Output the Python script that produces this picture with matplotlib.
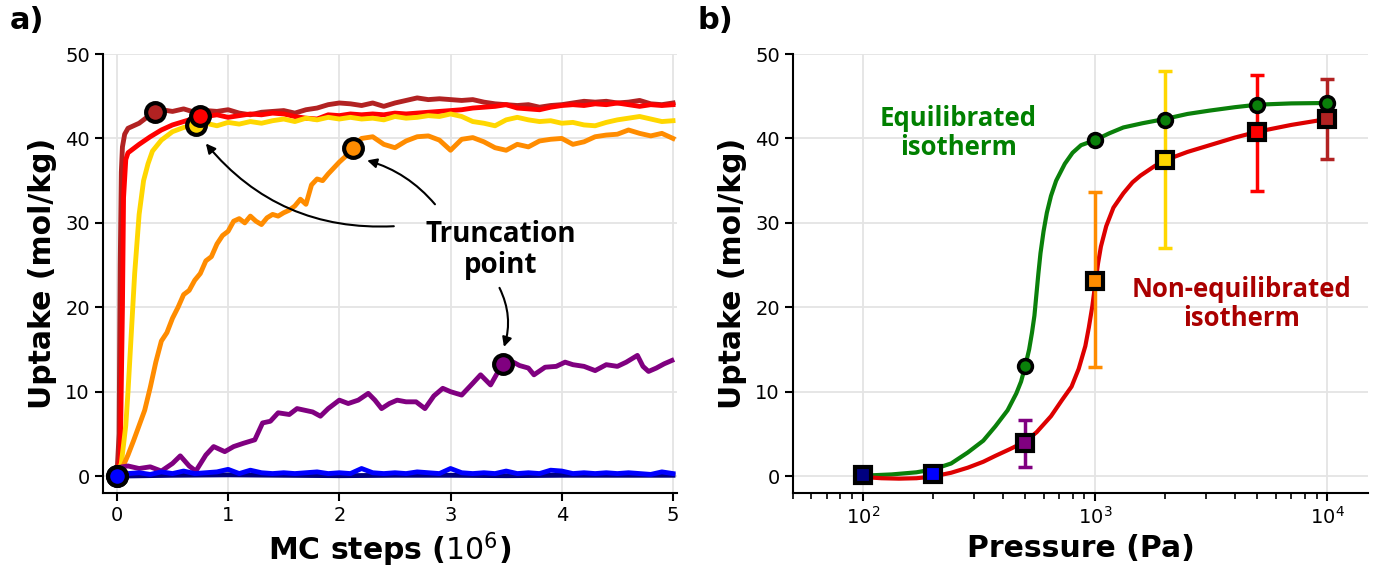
import matplotlib
matplotlib.use("Agg")
import matplotlib.pyplot as plt

# ---- panel a: MC traces ----
brown_x = [0, 0.02, 0.03, 0.04, 0.05, 0.07, 0.1, 0.15, 0.2, 0.25, 0.3, 0.34,
           0.4, 0.5, 0.6, 0.7, 0.8, 0.9, 1.0, 1.1, 1.2, 1.3, 1.4, 1.5, 1.6, 1.7, 1.8, 1.9,
           2.0, 2.1, 2.2, 2.3, 2.4, 2.5, 2.6, 2.7, 2.8, 2.9, 3.0, 3.1, 3.2, 3.3, 3.4, 3.5,
           3.6, 3.7, 3.8, 3.9, 4.0, 4.1, 4.2, 4.3, 4.4, 4.5, 4.6, 4.7, 4.8, 4.9, 5.0]
brown_y = [0, 5, 25, 36, 39, 40.5, 41.2, 41.5, 41.8, 42.3, 42.8, 43.1,
           43.4, 43.2, 43.5, 43.1, 43.3, 43.2, 43.4, 43.0, 42.8, 43.1, 43.2, 43.3, 43.0, 43.4, 43.6, 44.0,
           44.2, 44.1, 43.9, 44.2, 43.8, 44.2, 44.5, 44.8, 44.6, 44.7, 44.6, 44.5, 44.6, 44.3, 44.1, 44.0,
           43.9, 44.0, 43.7, 43.9, 44.0, 44.2, 44.4, 44.3, 44.4, 44.2, 44.3, 44.5, 44.1, 44.0, 44.2]

red_x = [0, 0.03, 0.05, 0.06, 0.08, 0.1, 0.15, 0.2, 0.3, 0.4, 0.5, 0.6, 0.75,
         0.8, 0.9, 1.0, 1.1, 1.2, 1.3, 1.4, 1.5, 1.6, 1.7, 1.8, 1.9, 2.0, 2.1, 2.2, 2.3,
         2.4, 2.5, 2.6, 2.7, 2.8, 2.9, 3.0, 3.1, 3.2, 3.3, 3.4, 3.5, 3.6, 3.7, 3.8, 3.9,
         4.0, 4.1, 4.2, 4.3, 4.4, 4.5, 4.6, 4.7, 4.8, 4.9, 5.0]
red_y = [0, 2, 20, 33, 37.5, 38.3, 38.8, 39.3, 40.2, 41.0, 41.6, 42.0, 42.6,
         42.6, 42.8, 42.5, 42.7, 42.9, 42.8, 43.0, 42.9, 42.6, 42.4, 42.3, 42.8, 42.7, 42.9, 42.8, 42.9,
         42.8, 43.0, 42.9, 43.0, 43.1, 43.2, 43.3, 43.4, 43.6, 43.7, 43.8, 44.0, 43.6, 43.5, 43.4, 43.7,
         43.9, 44.0, 43.9, 44.1, 44.0, 44.2, 44.0, 43.8, 44.0, 43.9, 44.0]

gold_x = [0, 0.04, 0.08, 0.1, 0.13, 0.16, 0.2, 0.24, 0.28, 0.32, 0.4, 0.5, 0.6, 0.71,
          0.8, 0.9, 1.0, 1.1, 1.2, 1.3, 1.4, 1.5, 1.6, 1.7, 1.8, 1.9, 2.0, 2.1, 2.2, 2.3,
          2.4, 2.5, 2.6, 2.7, 2.8, 2.9, 3.0, 3.1, 3.2, 3.3, 3.4, 3.5, 3.6, 3.7, 3.8, 3.9,
          4.0, 4.1, 4.2, 4.3, 4.4, 4.5, 4.6, 4.7, 4.8, 4.9, 5.0]
gold_y = [0, 1.5, 6, 10, 17, 24, 31, 35, 37, 38.5, 39.8, 40.8, 41.3, 41.6,
          41.8, 41.5, 41.9, 41.7, 42.0, 41.8, 42.1, 42.3, 42.0, 42.4, 42.2, 42.5, 42.3, 42.5, 42.3, 42.4,
          42.2, 42.6, 42.4, 42.5, 42.7, 42.6, 42.9, 42.6, 42.0, 41.8, 41.5, 42.2, 42.5, 42.2, 42.0, 42.1,
          41.8, 41.9, 41.6, 41.5, 41.9, 42.2, 42.4, 42.6, 42.3, 42.0, 42.1]

orange_x = [0, 0.05, 0.1, 0.15, 0.2, 0.25, 0.3, 0.35, 0.4, 0.45, 0.5, 0.55, 0.6, 0.65, 0.7,
            0.75, 0.8, 0.85, 0.9, 0.95, 1.0, 1.05, 1.1, 1.15, 1.2, 1.25, 1.3, 1.35, 1.4, 1.45,
            1.5, 1.55, 1.6, 1.65, 1.7, 1.75, 1.8, 1.85, 1.9, 1.95, 2.0, 2.05, 2.12,
            2.2, 2.3, 2.4, 2.5, 2.6, 2.7, 2.8, 2.9, 3.0, 3.1, 3.2, 3.3, 3.4, 3.5, 3.6, 3.7,
            3.8, 3.9, 4.0, 4.1, 4.2, 4.3, 4.4, 4.5, 4.6, 4.7, 4.8, 4.9, 5.0]
orange_y = [0, 1.0, 2.5, 4.2, 6.0, 7.8, 10.5, 13.5, 16.0, 17.0, 18.7, 20.0, 21.5, 22.0, 23.2,
            24.0, 25.5, 26.0, 27.5, 28.5, 29.0, 30.2, 30.5, 30.0, 30.8, 30.2, 29.8, 30.6, 31.0, 30.8,
            31.2, 31.5, 32.0, 32.8, 32.2, 34.5, 35.2, 35.0, 35.8, 36.5, 37.2, 37.8, 38.9,
            40.0, 40.2, 39.3, 38.9, 39.7, 40.2, 40.3, 39.8, 38.6, 39.9, 40.1, 39.6, 38.9, 38.6, 39.3, 39.0,
            39.7, 39.9, 40.0, 39.3, 39.6, 40.2, 40.4, 40.5, 41.0, 40.6, 40.3, 40.6, 40.0]

purple_x = [0, 0.1, 0.2, 0.3, 0.4, 0.5, 0.57, 0.65, 0.71, 0.8, 0.87, 0.97, 1.05, 1.14, 1.24,
            1.31, 1.38, 1.45, 1.55, 1.62, 1.69, 1.76, 1.83, 1.9, 2.0, 2.08, 2.17, 2.26, 2.32,
            2.38, 2.45, 2.52, 2.6, 2.69, 2.77, 2.85, 2.93, 3.0, 3.1, 3.2, 3.27, 3.36, 3.42, 3.47,
            3.55, 3.62, 3.7, 3.75, 3.85, 3.95, 4.03, 4.1, 4.2, 4.3, 4.4, 4.5, 4.58, 4.68, 4.73,
            4.78, 4.85, 4.92, 4.99]
purple_y = [1.0, 1.2, 0.9, 1.1, 0.6, 1.5, 2.4, 1.2, 0.6, 2.5, 3.5, 2.9, 3.5, 3.9, 4.3,
            6.3, 6.5, 7.5, 7.3, 8.0, 7.8, 7.6, 7.1, 8.0, 9.0, 8.6, 9.0, 9.8, 9.0,
            8.0, 8.6, 9.0, 8.8, 8.8, 8.0, 9.5, 10.4, 10.0, 9.6, 11.0, 12.0, 10.8, 12.2, 13.3,
            13.6, 13.1, 12.8, 12.0, 12.9, 13.0, 13.5, 13.2, 13.0, 12.5, 13.2, 13.0, 13.5, 14.3, 13.0,
            12.4, 12.8, 13.3, 13.7]

blue_x = [0, 0.1, 0.2, 0.3, 0.4, 0.5, 0.6, 0.7, 0.8, 0.9, 1.0, 1.1, 1.2, 1.3, 1.4, 1.5, 1.6,
          1.7, 1.8, 1.9, 2.0, 2.1, 2.2, 2.3, 2.4, 2.5, 2.6, 2.7, 2.8, 2.9, 3.0, 3.1, 3.2, 3.3,
          3.4, 3.5, 3.6, 3.7, 3.8, 3.9, 4.0, 4.1, 4.2, 4.3, 4.4, 4.5, 4.6, 4.7, 4.8, 4.9, 5.0]
blue_y = [0, 0.3, 0.4, 0.2, 0.5, 0.3, 0.6, 0.3, 0.4, 0.5, 0.8, 0.3, 0.7, 0.4, 0.3, 0.4, 0.3,
          0.4, 0.5, 0.3, 0.4, 0.3, 0.9, 0.4, 0.3, 0.4, 0.3, 0.5, 0.4, 0.3, 0.9, 0.4, 0.3, 0.4,
          0.3, 0.6, 0.3, 0.4, 0.3, 0.7, 0.6, 0.3, 0.4, 0.3, 0.4, 0.3, 0.4, 0.3, 0.2, 0.5, 0.3]

navy_x = [0, 0.5, 1.0, 1.5, 2.0, 2.5, 3.0, 3.5, 4.0, 4.5, 5.0]
navy_y = [0, 0.1, 0.15, 0.1, 0.05, 0.1, 0.1, 0.05, 0.1, 0.1, 0.1]

traces = [
    ('#b22222', brown_x, brown_y),
    ('#ff0000', red_x, red_y),
    ('#ffd700', gold_x, gold_y),
    ('#ff8c00', orange_x, orange_y),
    ('#800080', purple_x, purple_y),
    ('#000080', navy_x, navy_y),
    ('#0000ff', blue_x, blue_y),
]

# truncation points (same colour order as traces)
trunc_x = [0.34, 0.75, 0.71, 2.12, 3.47, 0.0, 0.0]
trunc_y = [43.1, 42.6, 41.6, 38.9, 13.3, 0.0, 0.0]
trunc_order = [2, 0, 1, 3, 4, 5, 6]

# ---- panel b: isotherms ----
pressure = [100, 200, 500, 1000, 2000, 5000, 10000]
sq_colors = ['#000080', '#0000ff', '#800080', '#ff8c00', '#ffd700', '#ff0000', '#b22222']
uptake_noneq = [0.1, 0.3, 3.9, 23.1, 37.4, 40.8, 42.3]
err_lo = [0.1, 0.3, 1.1, 12.9, 27.0, 33.8, 37.6]
err_hi = [0.1, 0.3, 6.7, 33.6, 48.0, 47.5, 47.0]
uptake_eq = [0.05, 0.3, 13.1, 39.8, 42.2, 44.0, 44.2]

green_p = [100, 133, 170, 201, 240, 283, 330, 372, 420, 458, 480, 501, 520, 535, 548, 558,
           570, 582, 600, 620, 646, 680, 741, 800, 870, 1000, 1150, 1324, 1600, 1995, 2500,
           3119, 4000, 5012, 7000, 10000]
green_q = [0.05, 0.2, 0.45, 0.8, 1.5, 2.8, 4.2, 5.9, 7.8, 9.8, 11.2, 13.1, 15.0, 17.0, 19.0, 21.3,
           24.0, 26.4, 29.0, 31.2, 33.2, 35.0, 37.0, 38.3, 39.2, 39.8, 40.6, 41.3, 41.8, 42.3, 42.9,
           43.3, 43.7, 44.0, 44.15, 44.2]
red_p = [100, 120, 143, 170, 200, 240, 283, 330, 372, 430, 501, 560, 646, 720, 792, 850,
         908, 940, 973, 1000, 1030, 1060, 1117, 1200, 1324, 1450, 1570, 1800, 1995, 2500,
         3119, 4000, 5012, 7000, 10000]
red_q = [-0.1, -0.25, -0.3, -0.25, -0.05, 0.4, 1.0, 1.7, 2.4, 3.2, 4.1, 5.2, 7.1, 9.0, 10.6, 12.7,
         15.4, 17.6, 20.1, 22.6, 25.2, 27.2, 29.6, 31.8, 33.5, 34.8, 35.6, 36.7, 37.4, 38.4,
         39.2, 40.1, 40.8, 41.6, 42.3]

fig = plt.figure(figsize=(13.73, 5.71), dpi=100)
ax1 = fig.add_axes([0.0750, 0.1366, 0.418, 0.7688])
ax2 = fig.add_axes([0.5776, 0.1366, 0.4188, 0.7688])

for ax in (ax1, ax2):
    ax.spines['top'].set_visible(False)
    ax.spines['right'].set_visible(False)
    for s in ('left', 'bottom'):
        ax.spines[s].set_linewidth(1.5)
    ax.grid(True, color='#e4e4e4', linewidth=1.3, zorder=0)
    ax.set_axisbelow(True)
    ax.tick_params(axis='both', which='major', labelsize=14, length=6, width=1.5)
    ax.set_ylim(-2, 50)
    ax.set_yticks([0, 10, 20, 30, 40, 50])
    ax.set_ylabel('Uptake (mol/kg)', fontsize=21.5, fontweight='bold', labelpad=6)

# panel a
for c, xs, ys in traces:
    ax1.plot(xs, ys, color=c, lw=3.5, zorder=2)
for i in trunc_order:
    ax1.plot(trunc_x[i], trunc_y[i], 'o', ms=13.5, mfc=traces[i][0], mec='black', mew=3, zorder=5)
ax1.set_xlim(-0.125, 5.035)
ax1.set_xticks([0, 1, 2, 3, 4, 5])
ax1.set_xlabel('MC steps ($10^6$)', fontsize=21.5, fontweight='bold')

ax1.text(3.45, 26.8, 'Truncation\npoint', ha='center', va='center', fontsize=20,
         fontweight='bold', family='Open Sans', linespacing=1.1)
arw = dict(arrowstyle='-|>', color='black', lw=1.5, mutation_scale=14)
ax1.annotate('', xy=(0.80, 39.4), xytext=(2.49, 29.6),
             arrowprops=dict(arw, connectionstyle='arc3,rad=-0.25', shrinkA=0, shrinkB=0))
ax1.annotate('', xy=(2.25, 37.4), xytext=(2.86, 32.2),
             arrowprops=dict(arw, connectionstyle='arc3,rad=0.15', shrinkA=0, shrinkB=0))
ax1.annotate('', xy=(3.48, 15.3), xytext=(3.44, 22.3),
             arrowprops=dict(arw, connectionstyle='arc3,rad=-0.2', shrinkA=0, shrinkB=0))

# panel b
ax2.set_xscale('log')
ax2.plot(green_p, green_q, color='#0a800a', lw=3, zorder=2)
ax2.plot(red_p, red_q, color='#dd0000', lw=3, zorder=2)
for i in range(len(pressure)):
    if i >= 2:
        ax2.errorbar(pressure[i], uptake_noneq[i],
                     yerr=[[uptake_noneq[i] - err_lo[i]], [err_hi[i] - uptake_noneq[i]]],
                     fmt='none', ecolor=sq_colors[i], elinewidth=2.5, capsize=5, capthick=2.5, zorder=3)
    ax2.plot(pressure[i], uptake_noneq[i], 's', ms=11, mfc=sq_colors[i], mec='black', mew=3, zorder=4)
for i in range(2, len(pressure)):
    ax2.plot(pressure[i], uptake_eq[i], 'o', ms=10, mfc='#0a800a', mec='black', mew=2.5, zorder=5)
ax2.set_xlim(50, 15000)
ax2.tick_params(axis='x', which='minor', length=4, width=1.2)
ax2.set_xlabel('Pressure (Pa)', fontsize=21.5, fontweight='bold')

ax2.text(258, 40.6, 'Equilibrated\nisotherm', ha='center', va='center', fontsize=18.5,
         fontweight='bold', family='Open Sans', color='#008000', linespacing=1.1)
ax2.text(4285, 20.4, 'Non-equilibrated\nisotherm', ha='center', va='center', fontsize=18.5,
         fontweight='bold', family='Open Sans', color='#aa0000', linespacing=1.1)

fig.text(10 / 1373, 1 - 6 / 571, 'a)', fontsize=22, fontweight='bold', va='top', ha='left')
fig.text(697 / 1373, 1 - 6 / 571, 'b)', fontsize=22, fontweight='bold', va='top', ha='left')

fig.savefig('out.png', dpi=100)
